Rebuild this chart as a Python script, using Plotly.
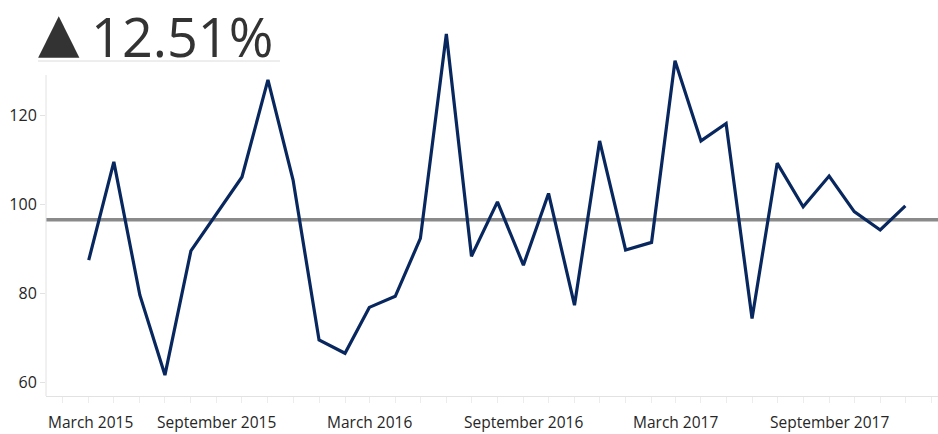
import pandas as pd
import plotly.graph_objects as go

# Monthly index values, April 2015 - December 2017
months = pd.date_range("2015-04-01", periods=33, freq="MS")
values = [87.5, 109.6, 79.7, 61.7, 89.6, 98.0, 106.2, 128.0, 105.5, 69.6,
          66.6, 76.9, 79.4, 92.4, 138.3, 88.4, 100.6, 86.4, 102.5, 77.4,
          114.3, 89.8, 91.5, 132.3, 114.3, 118.2, 74.4, 109.3, 99.5, 106.4,
          98.4, 94.3, 99.7]

headline = "12.51%"
y_ticks = [60, 80, 100, 120]
x_labels = ["March 2015", "September 2015", "March 2016",
            "September 2016", "March 2017", "September 2017"]
x_label_dates = ["2015-03-01", "2015-09-01", "2016-03-01",
                 "2016-09-01", "2017-03-01", "2017-09-01"]

x_range = ["2015-02-09", "2018-01-09"]
y_range = [57.0, 143.7]
axis_top = 129.1

average = sum(values) / len(values)

TEXT = "#262626"
GRID = "#e2e2e2"
FONT = "Open Sans"

fig = go.Figure()
fig.add_trace(go.Scatter(
    x=months, y=values, mode="lines",
    line=dict(color="#08275e", width=3.2),
    hoverinfo="x+y", showlegend=False,
))

# average reference line
fig.add_hline(y=average, line=dict(color="#8a8a8a", width=3.5), layer="below")

# left axis rule (stops below the headline)
fig.add_shape(type="line", xref="paper", yref="y", x0=0, x1=0,
              y0=y_range[0], y1=axis_top, line=dict(color=GRID, width=1))

# headline
fig.add_annotation(text="▲", xref="paper", yref="paper",
                   x=-0.0115, y=1.029, xanchor="left", yanchor="top",
                   showarrow=False,
                   font=dict(family="DejaVu Sans", size=54, color="#333333"))
fig.add_annotation(text=headline, xref="paper", yref="paper",
                   x=0.048, y=1.034, xanchor="left", yanchor="top",
                   showarrow=False,
                   font=dict(family=FONT, size=54, color="#333333"))
fig.add_shape(type="line", xref="paper", yref="paper",
              x0=(38 - 46) / 892, x1=(280 - 46) / 892,
              y0=(396 - 61) / 386, y1=(396 - 61) / 386,
              line=dict(color="#dcdcdc", width=1))

# x-axis labels; the first one is kept inside the pane
for i, (lab, d) in enumerate(zip(x_labels, x_label_dates)):
    fig.add_annotation(text=lab, xref="x", yref="paper",
                       x=x_range[0] if i == 0 else d,
                       xanchor="left" if i == 0 else "center",
                       y=0, yanchor="top", yshift=-13, showarrow=False,
                       font=dict(family=FONT, size=15.5, color=TEXT))

tick_months = pd.date_range("2015-03-01", "2018-01-01", freq="MS")

fig.update_layout(
    width=938, height=434,
    margin=dict(l=46, r=0, t=10, b=38),
    paper_bgcolor="white", plot_bgcolor="white",
    font=dict(family=FONT, color=TEXT),
    xaxis=dict(range=x_range, tickvals=tick_months, showticklabels=False,
               ticks="outside", ticklen=6, tickcolor="#ececec",
               showgrid=False, zeroline=False,
               showline=True, linecolor=GRID, linewidth=1),
    yaxis=dict(range=y_range, tickvals=y_ticks, ticks="outside",
               ticklen=5, tickcolor=GRID, showgrid=False, zeroline=False,
               showline=False, tickfont=dict(family=FONT, size=16, color=TEXT)),
)

fig.write_html("out.html")
